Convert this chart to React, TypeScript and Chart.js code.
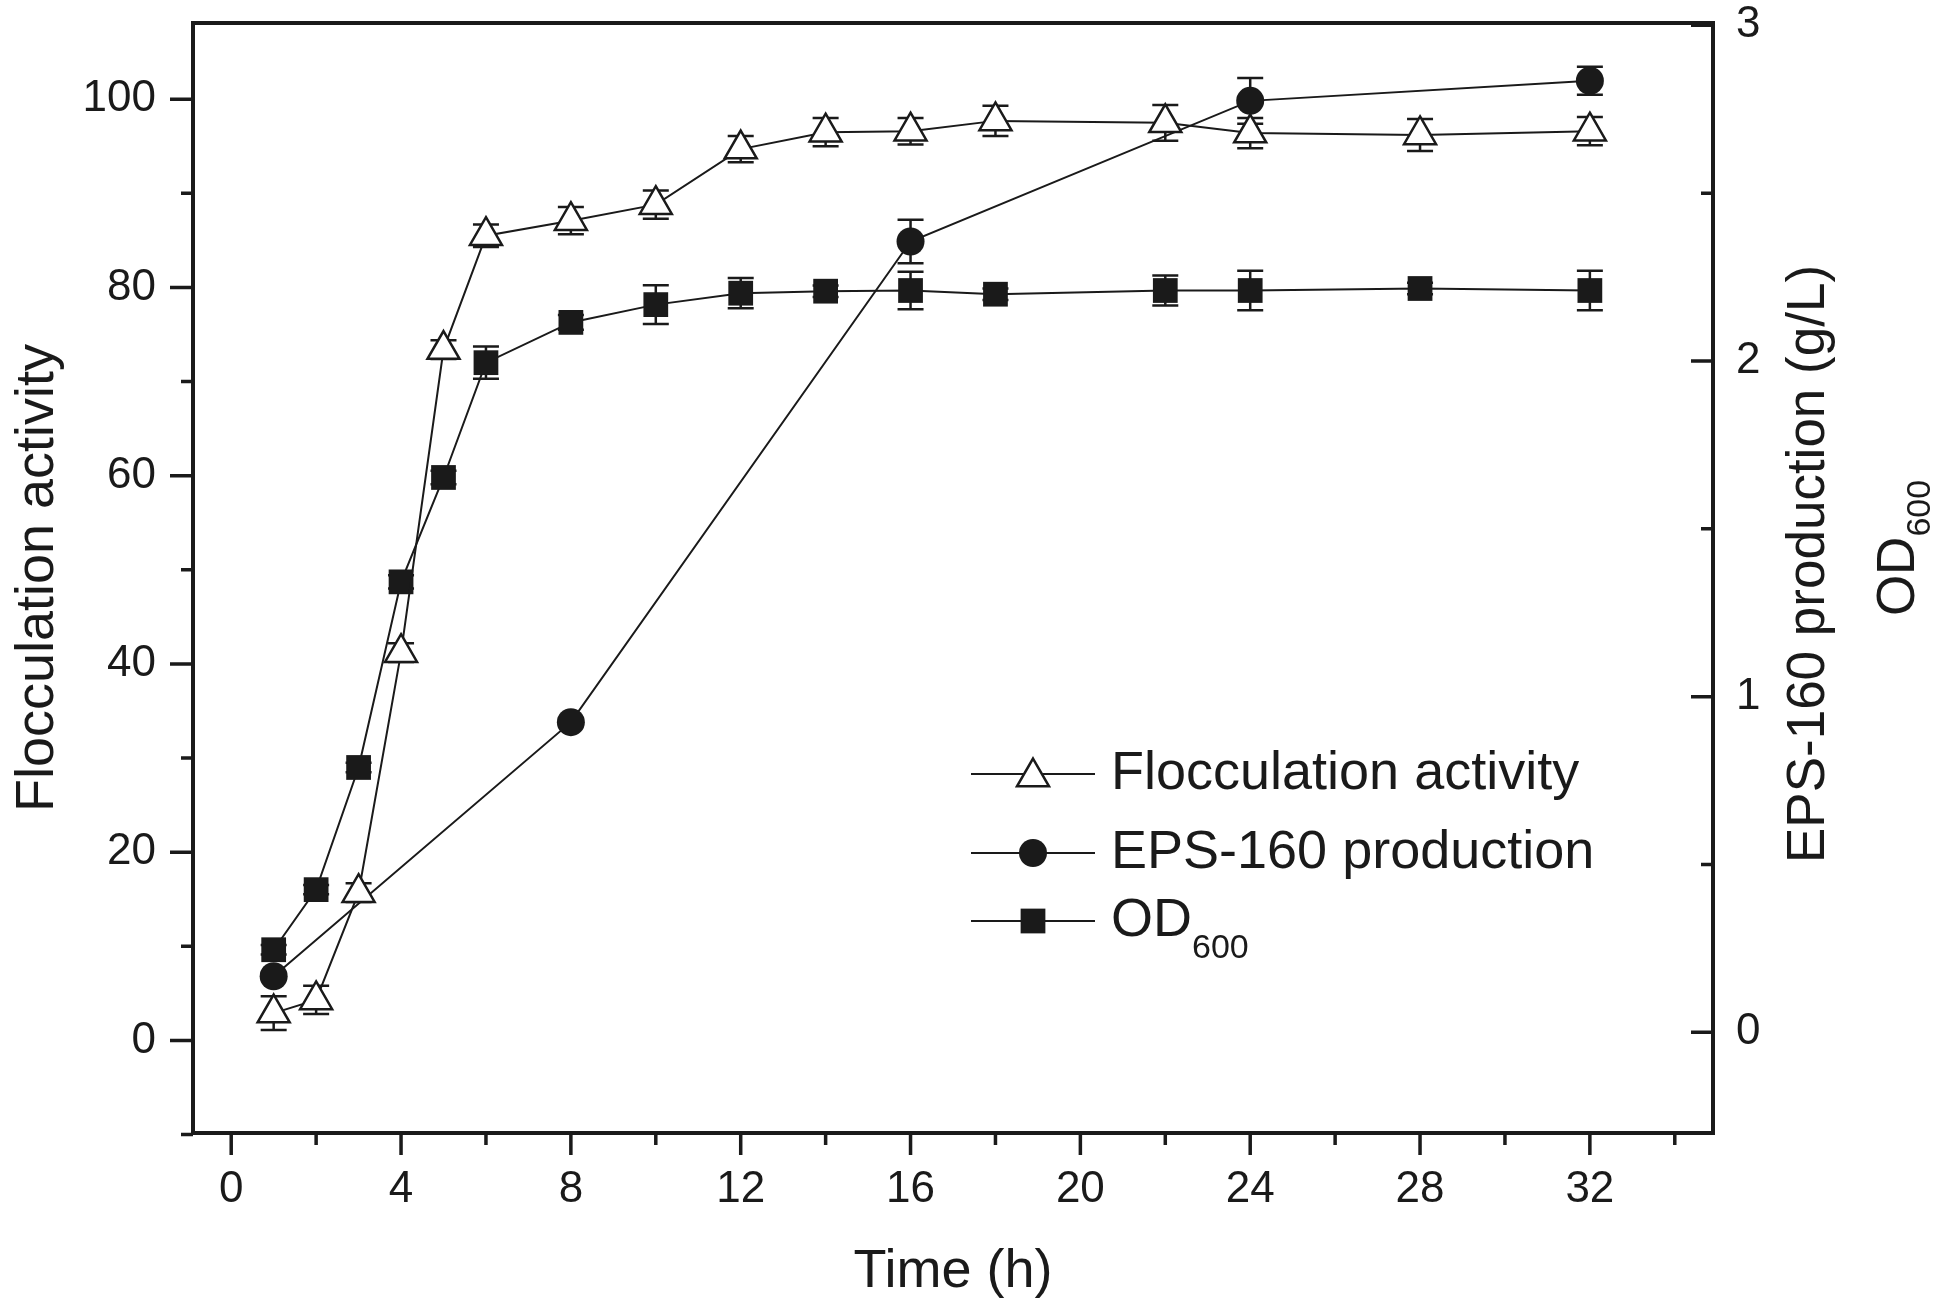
import { useEffect, useRef } from "react";
import { Chart, registerables } from "chart.js";
Chart.register(...registerables);

// sampling times (h)
const times = [1, 2, 3, 4, 5, 6, 8, 10, 12, 14, 16, 18, 22, 24, 28, 32];
const flocculation = [2.9, 4.3, 15.7, 41.2, 73.4, 85.5, 87.1, 88.8, 94.7, 96.5, 96.6, 97.7, 97.5, 96.4, 96.2, 96.6];
const flocculationErr = [1.8, 1.5, 1.0, 1.0, 1.0, 1.2, 1.45, 1.5, 1.4, 1.5, 1.4, 1.6, 1.9, 1.6, 1.7, 1.5];

const epsTimes = [1, 8, 16, 24, 32];
const eps = [0.167, 0.924, 2.356, 2.775, 2.835];
const epsErr = [0.01, 0.01, 0.065, 0.068, 0.042];

const od600 = [0.246, 0.425, 0.789, 1.342, 1.653, 1.995, 2.115, 2.168, 2.202, 2.208, 2.21, 2.199, 2.21, 2.21, 2.216, 2.21];
const od600Err = [0.014, 0.014, 0.014, 0.02, 0.02, 0.048, 0.022, 0.058, 0.045, 0.017, 0.056, 0.017, 0.045, 0.059, 0.017, 0.059];

const timeTicks = [0, 4, 8, 12, 16, 20, 24, 28, 32];
const timeMinor = [2, 6, 10, 14, 18, 22, 26, 30, 34];
const leftTicks = [0, 20, 40, 60, 80, 100];
const leftMinor = [-10, 10, 30, 50, 70, 90];
const rightTicks = [0, 1, 2, 3];
const rightMinor = [0.5, 1.5, 2.5];

const FONT = '"Liberation Sans", Arial, sans-serif';
const INK = "#1a1a1a";

function drawSymbol(ctx: CanvasRenderingContext2D, style: string, x: number, y: number, r: number) {
  ctx.beginPath();
  if (style === "triangle") {
    ctx.moveTo(x, y - r);
    ctx.lineTo(x + r * 0.866, y + r * 0.5);
    ctx.lineTo(x - r * 0.866, y + r * 0.5);
    ctx.closePath();
    ctx.fillStyle = "#fff";
    ctx.fill();
    ctx.lineWidth = 2.5;
    ctx.strokeStyle = INK;
    ctx.stroke();
  } else if (style === "circle") {
    ctx.arc(x, y, r, 0, Math.PI * 2);
    ctx.fillStyle = INK;
    ctx.fill();
  } else {
    const s = r * Math.SQRT1_2;
    ctx.fillStyle = INK;
    ctx.fillRect(x - s, y - s, 2 * s, 2 * s);
  }
}

const axisPlugin = {
  id: "axisFrame",
  beforeDatasetsDraw(chart: any) {
    const ctx = chart.ctx as CanvasRenderingContext2D;
    const xs = chart.scales.x;
    ctx.save();
    ctx.strokeStyle = INK;
    ctx.lineWidth = 2.5;
    chart.data.datasets.forEach((ds: any, i: number) => {
      const ys = chart.scales[chart.getDatasetMeta(i).yAxisID];
      ds.data.forEach((p: any, j: number) => {
        const e = ds.errors[j];
        const x = xs.getPixelForValue(p.x);
        const y1 = ys.getPixelForValue(p.y + e);
        const y2 = ys.getPixelForValue(p.y - e);
        ctx.beginPath();
        ctx.moveTo(x, y1);
        ctx.lineTo(x, y2);
        ctx.moveTo(x - 13, y1);
        ctx.lineTo(x + 13, y1);
        ctx.moveTo(x - 13, y2);
        ctx.lineTo(x + 13, y2);
        ctx.stroke();
      });
    });
    ctx.restore();
  },
  afterDraw(chart: any) {
    const ctx = chart.ctx as CanvasRenderingContext2D;
    const { left, right, top, bottom } = chart.chartArea;
    const xs = chart.scales.x;
    const yl = chart.scales.y;
    const yr = chart.scales.y1;
    ctx.save();
    ctx.strokeStyle = INK;
    ctx.lineWidth = 4;
    ctx.strokeRect(left, top, right - left, bottom - top);

    ctx.lineWidth = 3.5;
    ctx.beginPath();
    timeTicks.forEach((v) => {
      const x = xs.getPixelForValue(v);
      ctx.moveTo(x, bottom);
      ctx.lineTo(x, bottom + 22);
    });
    timeMinor.forEach((v) => {
      const x = xs.getPixelForValue(v);
      ctx.moveTo(x, bottom);
      ctx.lineTo(x, bottom + 12);
    });
    leftTicks.forEach((v) => {
      const y = yl.getPixelForValue(v);
      ctx.moveTo(left, y);
      ctx.lineTo(left - 23, y);
    });
    leftMinor.forEach((v) => {
      const y = yl.getPixelForValue(v);
      ctx.moveTo(left, y);
      ctx.lineTo(left - 12, y);
    });
    rightTicks.forEach((v) => {
      const y = yr.getPixelForValue(v);
      ctx.moveTo(right, y);
      ctx.lineTo(right - 22, y);
    });
    rightMinor.forEach((v) => {
      const y = yr.getPixelForValue(v);
      ctx.moveTo(right, y);
      ctx.lineTo(right - 12, y);
    });
    ctx.stroke();

    // right axis titles
    ctx.fillStyle = INK;
    const cy = (top + bottom) / 2;
    ctx.save();
    ctx.translate(right + 96, cy - 14);
    ctx.rotate(-Math.PI / 2);
    ctx.font = `53px ${FONT}`;
    ctx.textAlign = "center";
    ctx.textBaseline = "middle";
    ctx.fillText("EPS-160 production (g/L)", 0, 0);
    ctx.restore();

    ctx.save();
    ctx.translate(right + 186, cy - 30);
    ctx.rotate(-Math.PI / 2);
    ctx.textBaseline = "middle";
    ctx.textAlign = "left";
    ctx.font = `53px ${FONT}`;
    const wOD = ctx.measureText("OD").width;
    ctx.font = `34px ${FONT}`;
    const wSub = ctx.measureText("600").width;
    const start = -(wOD + wSub) / 2;
    ctx.font = `53px ${FONT}`;
    ctx.fillText("OD", start, 0);
    ctx.font = `34px ${FONT}`;
    ctx.fillText("600", start + wOD, 22);
    ctx.restore();

    // legend
    const rows = [
      { style: "triangle", r: 18.5, label: "Flocculation activity", y: 774 },
      { style: "circle", r: 14, label: "EPS-160 production", y: 853 },
      { style: "square", r: 17.5, label: "OD", sub: "600", y: 921 },
    ];
    rows.forEach((row) => {
      ctx.strokeStyle = INK;
      ctx.lineWidth = 2;
      ctx.beginPath();
      ctx.moveTo(971, row.y);
      ctx.lineTo(1095, row.y);
      ctx.stroke();
      drawSymbol(ctx, row.style, 1033, row.style === "triangle" ? row.y + 3 : row.y, row.r);
      ctx.fillStyle = INK;
      ctx.font = `54px ${FONT}`;
      ctx.textAlign = "left";
      ctx.textBaseline = "middle";
      ctx.fillText(row.label, 1111, row.y);
      if (row.sub) {
        const w = ctx.measureText(row.label).width;
        ctx.font = `34px ${FONT}`;
        ctx.fillText(row.sub, 1111 + w, row.y + 28);
      }
    });
    ctx.restore();
  },
};

export default function App() {
  const canvasRef = useRef<HTMLCanvasElement>(null);

  useEffect(() => {
    document.body.style.margin = "0";
    if (!canvasRef.current) return;
    const ctx = canvasRef.current.getContext("2d");
    if (!ctx) return;

    const tickFont = { family: FONT, size: 44 };
    const titleFont = { family: FONT, size: 54 };
    const noPad = (axis: any) => {
      axis.paddingTop = 0;
      axis.paddingBottom = 0;
      axis.paddingLeft = 0;
      axis.paddingRight = 0;
    };

    const chart = new Chart(ctx, {
      type: "line",
      data: {
        datasets: [
          {
            label: "Flocculation activity",
            data: times.map((t, i) => ({ x: t, y: flocculation[i] })),
            errors: flocculationErr,
            yAxisID: "y",
            borderColor: INK,
            borderWidth: 2,
            pointStyle: "triangle",
            pointRadius: 18.5,
            pointBackgroundColor: "#fff",
            pointBorderColor: INK,
            pointBorderWidth: 2.5,
            tension: 0,
            order: 0,
          } as any,
          {
            label: "EPS-160 production",
            data: epsTimes.map((t, i) => ({ x: t, y: eps[i] })),
            errors: epsErr,
            yAxisID: "y1",
            borderColor: INK,
            borderWidth: 2,
            pointStyle: "circle",
            pointRadius: 14,
            pointBackgroundColor: INK,
            pointBorderColor: INK,
            pointBorderWidth: 0,
            tension: 0,
            order: 1,
          } as any,
          {
            label: "OD600",
            data: times.map((t, i) => ({ x: t, y: od600[i] })),
            errors: od600Err,
            yAxisID: "y1",
            borderColor: INK,
            borderWidth: 2,
            pointStyle: "rect",
            pointRadius: 17.5,
            pointBackgroundColor: INK,
            pointBorderColor: INK,
            pointBorderWidth: 0,
            tension: 0,
            order: 2,
          } as any,
        ],
      },
      options: {
        animation: false,
        responsive: false,
        devicePixelRatio: 1,
        layout: { padding: { top: 23, left: 0, right: 0, bottom: 0 } },
        plugins: { legend: { display: false }, tooltip: { enabled: false } },
        scales: {
          x: {
            type: "linear",
            min: -0.9,
            max: 34.9,
            afterBuildTicks: (axis: any) => {
              axis.ticks = timeTicks.map((v) => ({ value: v }));
            },
            afterFit: (axis: any) => {
              axis.height = 176;
              noPad(axis);
            },
            grid: { display: false, drawTicks: false },
            border: { display: false },
            ticks: { font: tickFont, color: INK, padding: 30, maxRotation: 0 },
            title: { display: true, text: "Time (h)", font: titleFont, color: INK, padding: { top: 0, bottom: 4 } },
          },
          y: {
            type: "linear",
            position: "left",
            min: -9.84,
            max: 108.1,
            afterBuildTicks: (axis: any) => {
              axis.ticks = leftTicks.map((v) => ({ value: v }));
            },
            afterFit: (axis: any) => {
              axis.width = 193;
              noPad(axis);
            },
            grid: { display: false, drawTicks: false },
            border: { display: false },
            ticks: { font: tickFont, color: INK, padding: 37 },
            title: { display: true, text: "Flocculation activity", font: titleFont, color: INK, padding: { top: 6, bottom: 0 } },
          },
          y1: {
            type: "linear",
            position: "right",
            min: -0.3,
            max: 3.007,
            afterBuildTicks: (axis: any) => {
              axis.ticks = rightTicks.map((v) => ({ value: v }));
            },
            afterFit: (axis: any) => {
              axis.width = 237;
              noPad(axis);
            },
            grid: { display: false, drawTicks: false },
            border: { display: false },
            ticks: { font: tickFont, color: INK, padding: 23 },
          },
        },
      },
      plugins: [axisPlugin],
    });

    return () => chart.destroy();
  }, []);

  return <canvas ref={canvasRef} width={1950} height={1309} style={{ display: "block" }} />;
}
